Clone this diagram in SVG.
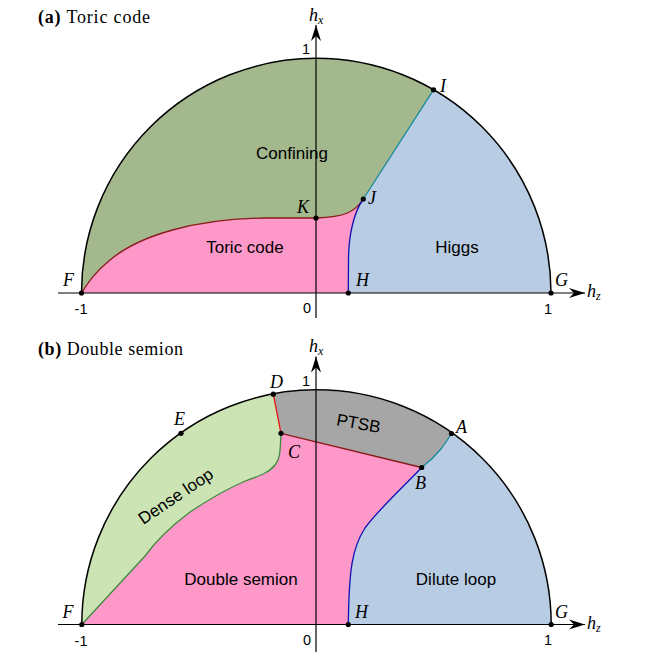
<svg xmlns="http://www.w3.org/2000/svg" width="664" height="664" viewBox="0 0 664 664">
<style>
.bg{fill:#ffffff}
.title{font-family:"Liberation Serif",serif;font-size:18px;fill:#000}
.region{font-family:"Liberation Sans",Arial,sans-serif;font-size:17px;fill:#000;text-anchor:middle}
.tick{font-family:"Liberation Sans",Arial,sans-serif;font-size:14.5px;fill:#000;text-anchor:middle}
.pt{font-family:"Liberation Serif",serif;font-style:italic;font-size:18px;fill:#000}
.sub{font-size:12px}
.axis{stroke:#000;stroke-width:1.2;fill:none;marker-end:url(#arr)}
.arc{stroke:#000;stroke-width:1.5;fill:none}
.dot{fill:#000}
.green{fill:#a3b88d}
.pink{fill:#fe98c9}
.blue{fill:#b8cde4}
.lgreen{fill:#cce4b4}
.grey{fill:#a6a6a6}
.b-red{stroke:#8b1a1a;stroke-width:1.3;fill:none}
.b-teal{stroke:#17889a;stroke-width:1.3;fill:none}
.b-blue{stroke:#1010b4;stroke-width:1.3;fill:none}
.b-rred{stroke:#e81414;stroke-width:1.3;fill:none}
.b-green{stroke:#3d8a3d;stroke-width:1.3;fill:none}
</style>
<defs>
<marker id="arr" viewBox="-17 -6 18 12" markerWidth="18" markerHeight="12" refX="0" refY="0" orient="auto" markerUnits="userSpaceOnUse">
<path d="M0,0 L-16,-5 L-11,0 L-16,5 Z" fill="#000"/>
</marker>
</defs>
<rect class="bg" x="0" y="0" width="664" height="664"/>

<!-- Panel (a) -->
<g id="panel-a">
<text class="title" x="38" y="23" textLength="112"><tspan font-weight="bold">(a)</tspan> Toric code</text>
<g id="a-confining">
<path class="green" d="M81.5,293 A234.5,234.5 0 0 1 433.5,89.8 L363.3,199 C355,212 345,217 316,218 L265,218 C195,219 140,235 110,260 C95,272 88,283 81.5,293 Z"/>
<text class="region" x="292" y="159">Confining</text>
</g>
<g id="a-toric">
<path class="pink" d="M81.5,293 C88,283 95,272 110,260 C140,235 195,219 265,218 L316,218 C345,217 355,212 363.3,199 C354,212 348.5,235 348.5,260 L348.3,293 Z"/>
<text class="region" x="245" y="253">Toric code</text>
</g>
<g id="a-higgs">
<path class="blue" d="M433.5,89.8 L363.3,199 C354,212 348.5,235 348.5,260 L348.3,293 L551,293 A234.5,234.5 0 0 0 433.5,89.8 Z"/>
<text class="region" x="457" y="253">Higgs</text>
</g>
</g>

<!-- Panel (b) -->
<g id="panel-b">
<text class="title" x="38" y="355" textLength="145"><tspan font-weight="bold">(b)</tspan> Double semion</text>
<g id="b-dense">
<path class="lgreen" d="M81.8,624.5 A234.5,234.5 0 0 1 273.3,394.2 L281,433.3 C280,448 281,458 275,465 C268,474 255,477 243,482 C225,490 205,502 190,512 C170,527 155,542 145,556 Z"/>
<text class="region" x="179" y="501" transform="rotate(-34 179 501)">Dense loop</text>
</g>
<g id="b-ptsb">
<path class="grey" d="M273.3,394.2 A234.5,234.5 0 0 1 451.5,433.5 C445,444 438,455 421.7,467.5 L281,433.3 Z"/>
<text class="region" x="357.5" y="429" transform="rotate(10 357.5 429)">PTSB</text>
</g>
<g id="b-semion">
<path class="pink" d="M81.8,624.5 L145,556 C155,542 170,527 190,512 C205,502 225,490 243,482 C255,477 268,474 275,465 C281,458 280,448 281,433.3 L421.7,467.5 C400,490 378,510 365,528 C352,548 349,570 348.3,624.5 Z"/>
<text class="region" x="241" y="585">Double semion</text>
</g>
<g id="b-dilute">
<path class="blue" d="M451.5,433.5 C445,444 438,455 421.7,467.5 C400,490 378,510 365,528 C352,548 349,570 348.3,624.5 L551.2,624.5 A234.5,234.5 0 0 0 451.5,433.5 Z"/>
<text class="region" x="456" y="585">Dilute loop</text>
</g>
</g>

<!-- Connectors: phase boundaries, outlines, axes -->
<g id="connectors">
<path class="b-teal" d="M433.5,89.8 L363.3,199"/>
<path class="b-red" d="M363.3,199 C355,212 345,217 316,218 L265,218 C195,219 140,235 110,260 C95,272 88,283 81.5,293"/>
<path class="b-blue" d="M363.3,199 C354,212 348.5,235 348.5,260 L348.3,293"/>
<path class="arc" d="M81.5,293 A234.5,234.5 0 0 1 551,293"/>
<path class="axis" d="M58,293 H585"/>
<path class="axis" d="M316,318 V25"/>

<path class="b-rred" d="M273.3,394.2 L281,433.3"/>
<path class="b-red" d="M281,433.3 L421.7,467.5"/>
<path class="b-teal" d="M451.5,433.5 C445,444 438,455 421.7,467.5"/>
<path class="b-blue" d="M421.7,467.5 C400,490 378,510 365,528 C352,548 349,570 348.3,624.5"/>
<path class="b-green" d="M281,433.3 C280,448 281,458 275,465 C268,474 255,477 243,482 C225,490 205,502 190,512 C170,527 155,542 145,556 L81.8,624.5"/>
<path class="arc" d="M81.8,624.5 A234.5,234.5 0 0 1 551.2,624.5"/>
<path class="axis" d="M58,624.5 H585"/>
<path class="axis" d="M316,652 V356.5"/>
</g>

<!-- Points -->
<g id="points-a">
<circle class="dot" cx="433.5" cy="89.8" r="2.6"/>
<circle class="dot" cx="363.3" cy="199" r="2.6"/>
<circle class="dot" cx="316" cy="218" r="2.6"/>
<circle class="dot" cx="348.3" cy="293" r="2.6"/>
<circle class="dot" cx="81.5" cy="293" r="2.6"/>
<circle class="dot" cx="551" cy="293" r="2.6"/>
<text class="pt" x="440" y="91.5">I</text>
<text class="pt" x="368" y="204">J</text>
<text class="pt" x="297" y="213.3">K</text>
<text class="pt" x="356" y="286">H</text>
<text class="pt" x="63" y="286">F</text>
<text class="pt" x="555" y="286">G</text>
<text class="tick" x="306" y="53.5">1</text>
<text class="tick" x="307" y="313">0</text>
<text class="tick" x="81" y="314">-1</text>
<text class="tick" x="548" y="314">1</text>
<text class="pt" x="309" y="20.5">h<tspan class="sub" dy="3">x</tspan></text>
<text class="pt" x="587" y="297">h<tspan class="sub" dy="3">z</tspan></text>
</g>
<g id="points-b">
<circle class="dot" cx="273.3" cy="394.2" r="2.6"/>
<circle class="dot" cx="281" cy="433.3" r="2.6"/>
<circle class="dot" cx="451.5" cy="433.5" r="2.6"/>
<circle class="dot" cx="421.7" cy="467.5" r="2.6"/>
<circle class="dot" cx="181" cy="433.3" r="2.6"/>
<circle class="dot" cx="348.3" cy="624.5" r="2.6"/>
<circle class="dot" cx="81.8" cy="624.5" r="2.6"/>
<circle class="dot" cx="551.2" cy="624.5" r="2.6"/>
<text class="pt" x="270" y="388.3">D</text>
<text class="pt" x="288" y="458">C</text>
<text class="pt" x="456" y="433.3">A</text>
<text class="pt" x="415" y="489">B</text>
<text class="pt" x="174" y="425">E</text>
<text class="pt" x="355" y="617.5">H</text>
<text class="pt" x="62.5" y="618">F</text>
<text class="pt" x="555" y="617.5">G</text>
<text class="tick" x="306" y="386">1</text>
<text class="tick" x="307" y="645">0</text>
<text class="tick" x="81" y="646">-1</text>
<text class="tick" x="548" y="645">1</text>
<text class="pt" x="309" y="352">h<tspan class="sub" dy="3">x</tspan></text>
<text class="pt" x="587" y="628.5">h<tspan class="sub" dy="3">z</tspan></text>
</g>
</svg>
